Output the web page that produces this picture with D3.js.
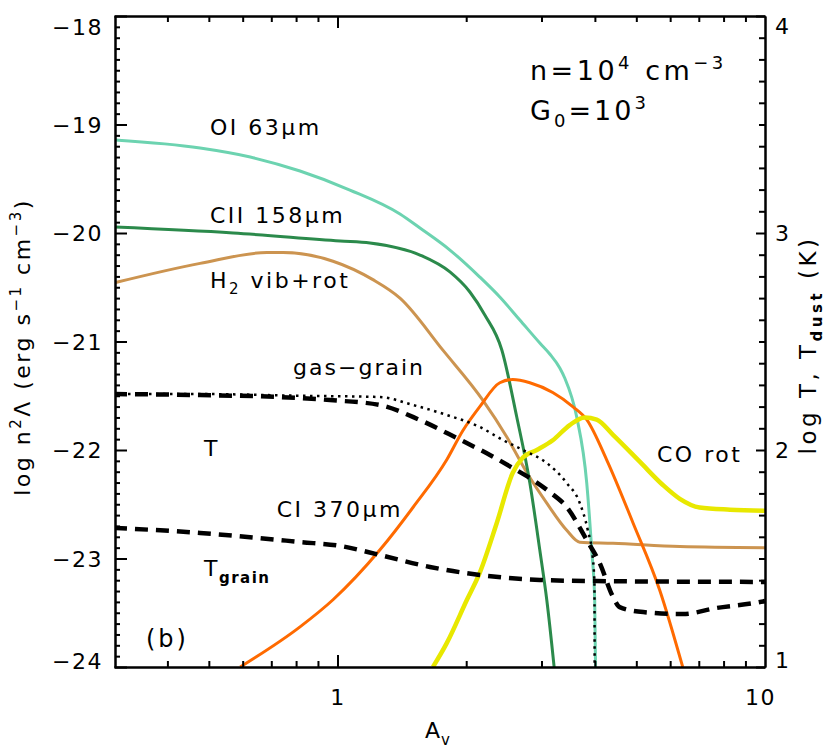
<!DOCTYPE html>
<html><head><meta charset="utf-8">
<script src="https://cdn.jsdelivr.net/npm/d3@7"></script>
<style>
body{margin:0;background:#fff}
text{font-family:"DejaVu Sans",sans-serif;fill:#000}
</style>
</head><body>
<svg id="c" width="830" height="749"></svg>
<script>
// ---------- data ----------
// OI 63um (left axis, log n^2 Lambda)
const oiAv   = [0.3,0.477,0.625,0.817,1.069,1.400,1.559,1.832,2.152,2.397,2.670,2.973,3.137,3.311,3.40,3.627,3.828,3.932,3.996,4.02];
const oiVal  = [-19.143,-19.217,-19.30,-19.429,-19.604,-19.825,-19.954,-20.157,-20.406,-20.59,-20.802,-21.014,-21.115,-21.244,-21.336,-21.696,-22.304,-22.922,-23.382,-24.2];
// CII 158um
const ciiAv  = [0.3,0.570,1.014,1.191,1.559,1.832,2.040,2.211,2.423,2.626,2.818,2.973,3.087,3.25];
const ciiVal = [-19.945,-20.0,-20.074,-20.092,-20.203,-20.359,-20.544,-20.756,-21.078,-21.696,-22.304,-22.922,-23.382,-24.2];
// H2 vib+rot
const h2Av   = [0.3,0.477,0.684,0.746,0.976,1.210,1.400,1.764,2.187,2.489,2.774,3.087,3.437,3.687,4.41,6.32,10];
const h2Val  = [-20.46,-20.28,-20.18,-20.18,-20.26,-20.43,-20.60,-21.08,-21.54,-21.88,-22.21,-22.49,-22.74,-22.85,-22.86,-22.89,-22.90];
// CI 370um
const ciAv   = [0.592,0.817,0.976,1.257,1.501,1.801,1.965,2.152,2.397,2.570,2.818,3.188,3.550,3.828,4.262,4.91,5.67,6.42];
const ciVal  = [-24.0,-23.63,-23.38,-22.92,-22.53,-22.09,-21.82,-21.60,-21.38,-21.35,-21.38,-21.47,-21.60,-21.72,-22.09,-22.67,-23.29,-24.0];
// CO rot
const coAv   = [1.672,1.801,2.008,2.152,2.359,2.570,2.715,2.926,3.188,3.493,3.787,4.039,4.41,5.10,5.76,6.32,7.03,8.28,10];
const coVal  = [-24.0,-23.78,-23.38,-23.13,-22.67,-22.21,-22.07,-22.00,-21.91,-21.77,-21.70,-21.72,-21.86,-22.11,-22.32,-22.45,-22.53,-22.55,-22.56];
// gas-grain (dotted, left axis)
const ggAv   = [0.3,0.477,0.817,1.257,1.501,1.801,2.152,2.436,2.715,3.087,3.437,3.687,3.849,3.953,3.99,3.995];
const ggVal  = [-21.484,-21.484,-21.50,-21.512,-21.585,-21.677,-21.788,-21.908,-22.0,-22.12,-22.304,-22.488,-22.737,-22.986,-23.226,-24.2];
// T gas (dashed, right axis, log T)
const tAv    = [0.3,0.477,0.734,0.960,1.257,1.559,1.902,2.272,2.570,2.864,3.137,3.437,3.828,4.105,4.41,4.571,5.19,6.42,7.70,9.45,10];
const tVal   = [2.258,2.253,2.244,2.230,2.207,2.138,2.055,1.977,1.917,1.862,1.806,1.737,1.585,1.479,1.323,1.276,1.253,1.244,1.272,1.295,1.304];
// T grain (dashed, right axis)
const tgAv   = [0.3,0.477,0.659,0.817,1.014,1.257,1.645,2.152,2.973,4.039,10];
const tgVal  = [1.641,1.618,1.594,1.576,1.558,1.516,1.461,1.424,1.401,1.396,1.392];

const xMajor = [1,10];
const xMinor = [0.4,0.5,0.6,0.7,0.8,0.9,2,3,4,5,6,7,8,9];
const yLeftMajor = [-24,-23,-22,-21,-20,-19,-18];
const yRightMajor = [1,2,3,4];

// ---------- layout ----------
const L=115,R=765,T=16,B=667;
const svg=d3.select("#c");
const x=d3.scaleLog().domain([0.3,10]).range([114,R]);
const yL=d3.scaleLinear().domain([-24,-18]).range([B,T]);
const yR=d3.scaleLinear().domain([1,4]).range([B,T]);
const FS=21;

svg.append("defs").append("clipPath").attr("id","clip")
  .append("rect").attr("x",L).attr("y",T).attr("width",R-L).attr("height",B-T);

const plot=svg.append("g").attr("clip-path","url(#clip)");
function curve(av,vals,ys,color,w,dash){
  const pts=av.map((a,i)=>[x(a),ys(vals[i])]);
  plot.append("path").datum(pts)
    .attr("d",d3.line().curve(d3.curveMonotoneX))
    .attr("fill","none").attr("stroke",color).attr("stroke-width",w)
    .attr("stroke-dasharray",dash||null).attr("stroke-linejoin","round");
}
curve(h2Av,h2Val,yL,"#cc9450",3);
curve(ciiAv,ciiVal,yL,"#2b8a4b",3);
curve(oiAv,oiVal,yL,"#6cd3b0",3);
curve(ciAv,ciVal,yL,"#ff6a00",3);
curve(coAv,coVal,yL,"#e8e800",4.5);
curve(ggAv,ggVal,yL,"#000",2.5,"2.5,4.5");
curve(tAv,tVal,yR,"#000",4.5,"13,8");
curve(tgAv,tgVal,yR,"#000",4.5,"13,8");

// ---------- axes ----------
function styleAxis(g){
  g.select(".domain").attr("stroke","#000").attr("stroke-width",2);
  g.selectAll(".tick line").attr("stroke","#000").attr("stroke-width",2);
  g.selectAll("text").attr("font-size",22).attr("font-family","DejaVu Sans").attr("fill","#000").style("letter-spacing","1.5px");
}
const fmt=d3.format("d");
// bottom
const gb=svg.append("g").attr("transform",`translate(0,${B})`)
  .call(d3.axisBottom(x).tickValues(xMajor).tickSize(-12).tickSizeOuter(0).tickPadding(22).tickFormat(fmt));
styleAxis(gb);
gb.selectAll(".tick").filter(d=>d===10).select("text").attr("x",-5);
gb.selectAll(".tick").filter(d=>d===10).select("line").remove();
const gbm=svg.append("g").attr("transform",`translate(0,${B})`)
  .call(d3.axisBottom(x).tickValues(xMinor).tickSize(-6).tickSizeOuter(0).tickFormat(""));
styleAxis(gbm);
// top
const gt=svg.append("g").attr("transform",`translate(0,${T})`)
  .call(d3.axisTop(x).tickValues(xMajor.filter(d=>d<10)).tickSize(-12).tickSizeOuter(0).tickFormat(""));
styleAxis(gt);
const gtm=svg.append("g").attr("transform",`translate(0,${T})`)
  .call(d3.axisTop(x).tickValues(xMinor).tickSize(-6).tickSizeOuter(0).tickFormat(""));
styleAxis(gtm);
// left
const gl=svg.append("g").attr("transform",`translate(${L},0)`)
  .call(d3.axisLeft(yL).tickValues(yLeftMajor).tickSize(-12).tickSizeOuter(0).tickPadding(12).tickFormat(fmt));
styleAxis(gl);
gl.selectAll(".tick text").attr("dy",null).attr("dominant-baseline","central")
  .attr("y",d=>Math.min(Math.max(yL(d),27),661)-yL(d));
const gll=svg.append("g").attr("transform",`translate(${L},0)`)
  .call(d3.axisLeft(yL).tickValues(d3.range(-240,-179).filter(v=>v%10!==0).map(v=>v/10)).tickSize(-5).tickSizeOuter(0).tickFormat(""));
styleAxis(gll);
// right
const gr=svg.append("g").attr("transform",`translate(${R},0)`)
  .call(d3.axisRight(yR).tickValues(yRightMajor).tickSize(-9).tickSizeOuter(0).tickPadding(10).tickFormat(fmt));
styleAxis(gr);
gr.selectAll(".tick text").attr("dy",null).attr("dominant-baseline","central")
  .attr("y",d=>Math.min(Math.max(yR(d),26),660)-yR(d));
const grm=svg.append("g").attr("transform",`translate(${R},0)`)
  .call(d3.axisRight(yR).tickValues(d3.range(10,41).filter(v=>v%10!==0).map(v=>v/10)).tickSize(-6).tickSizeOuter(0).tickFormat(""));
styleAxis(grm);

// ---------- text ----------
function label(xp,yp,parts,opts={}){
  const t=svg.append("text").attr("x",xp).attr("y",yp).attr("font-size",opts.size||22)
    .style("letter-spacing",(opts.ls!=null?opts.ls:2.5)+"px");
  if(opts.anchor) t.attr("text-anchor",opts.anchor);
  if(opts.rotate) t.attr("transform",`rotate(-90,${xp},${yp})`);
  parts.forEach(p=>{
    const s=t.append("tspan").text(p.t);
    if(p.dy) s.attr("dy",p.dy);
    if(p.size) s.attr("font-size",p.size);
    if(p.bold) s.attr("font-weight","bold");
  });
  return t;
}
label(210,135,[{t:"OI 63μm"}]);
label(210,223,[{t:"CII 158μm"}]);
label(210,288,[{t:"H"},{t:"2",size:15,dy:6},{t:" vib+rot",dy:-6}]);
label(425,375,[{t:"gas−grain"}],{anchor:"end",ls:2});
label(204,456,[{t:"T"}]);
label(403,517,[{t:"CI 370μm"}],{anchor:"end"});
label(204,576,[{t:"T"},{t:"grain",size:15,bold:true,dy:7}],{ls:1.5});
label(146,647,[{t:"(b)"}],{size:24,ls:3});
label(657,462,[{t:"CO rot"}]);
label(530,80,[{t:"n=10",},{t:"4",size:18,dy:-11},{t:" cm",dy:11},{t:"−3",size:18,dy:-11}],{size:27,ls:3.5});
label(530,120,[{t:"G"},{t:"0",size:18,dy:7},{t:"=10",dy:-7},{t:"3",size:18,dy:-11}],{size:27,ls:3});
label(425,738,[{t:"A"},{t:"v",size:15,dy:7}],{ls:1});
label(30,347,[{t:"log n"},{t:"2",size:15,dy:-9},{t:"Λ (erg s",dy:9},{t:"−1",size:15,dy:-9},{t:" cm",dy:9},{t:"−3",size:15,dy:-9},{t:")",dy:9}],{rotate:true,anchor:"middle",ls:2.5});
label(816,345,[{t:"log T, T"},{t:"dust",size:15,bold:true,dy:6},{t:" (K)",dy:-6}],{rotate:true,anchor:"middle",size:23,ls:3.5});
</script>
</body></html>
